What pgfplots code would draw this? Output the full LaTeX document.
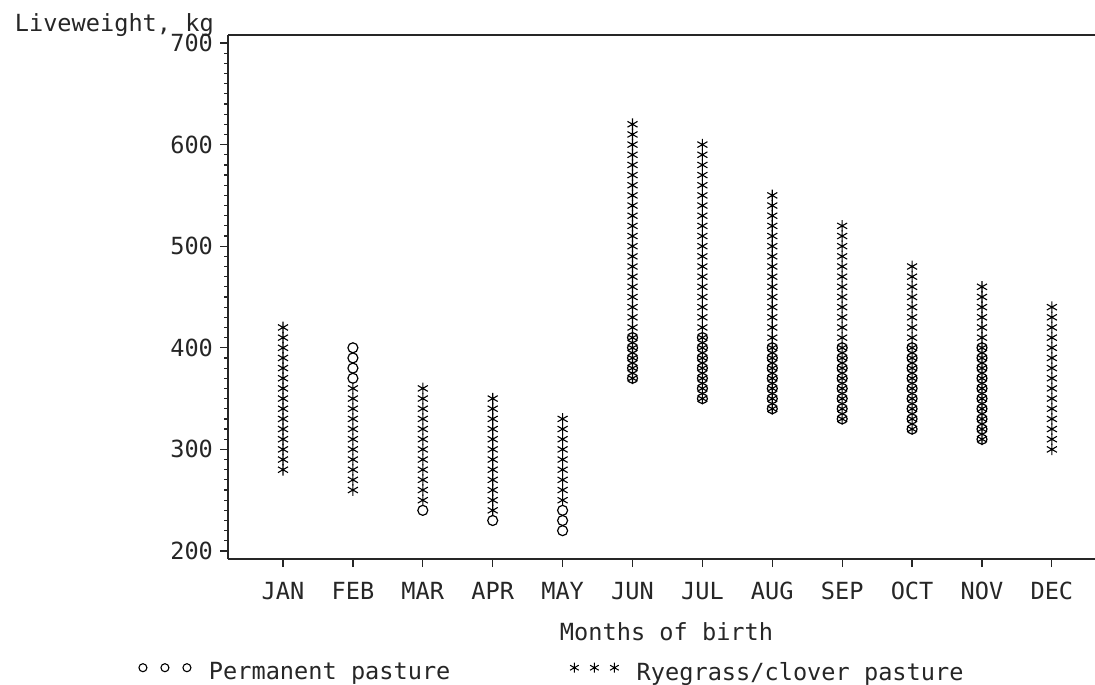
\documentclass[border=0pt]{standalone}
\usepackage{fontspec}
\setmainfont{DejaVu Sans Mono}
\usepackage{pgfplots}
\pgfplotsset{compat=1.18}
\begin{document}
\begin{tikzpicture}[x=1pt,y=1pt]
\path (0,0) rectangle (547.5,342);
\begin{axis}[
  at={(114pt,62.5pt)}, anchor=south west,
  scale only axis, width=433.5pt, height=262pt,
  xmin=-0.787, xmax=11.617, ymin=192.1, ymax=707.9,
  axis x line*=box, axis y line*=left,
  axis line style={line width=0.8pt, black!85},
  xtick={0,1,2,3,4,5,6,7,8,9,10,11},
  xticklabels={JAN,FEB,MAR,APR,MAY,JUN,JUL,AUG,SEP,OCT,NOV,DEC},
  xtick pos=bottom,
  ytick={200,300,400,500,600,700},
  minor y tick num=9,
  tick align=outside,
  major tick length=4pt, minor tick length=2pt,
  tick style={black!85, line width=0.6pt},
  /pgf/number format/assume math mode=true,
  tick label style={font=\fontsize{11.8}{14}\selectfont, text=black!85},
  xticklabel style={yshift=-4pt},
  xlabel={Months of birth},
  xlabel style={font=\fontsize{11.8}{14}\selectfont, text=black!85, at={(axis description cs:0.5058,-0.1546)}, anchor=base},
  ylabel={Liveweight, kg},
  ylabel style={font=\fontsize{11.8}{14}\selectfont, text=black!85, rotate=-90, at={(axis description cs:-0.254,1.0076)}, anchor=base west},
  clip=false,
  legend columns=2,
  legend style={at={(axis description cs:-0.1032,-0.217)}, anchor=west, draw=none, fill=none, inner sep=0pt,
    font=\fontsize{11.8}{14}\selectfont, text=black!85,
    nodes={inner sep=0pt},
    /tikz/every odd column/.append style={column sep=9pt},
    /tikz/every even column/.append style={column sep=59.8pt}},
]
\addplot[only marks, mark=o, mark size=2.5pt, line width=0.6pt, black,
  legend image code/.code={\draw[black, line width=0.55pt, mark size=2pt] plot[only marks, mark=o] coordinates {(0pt,2.5pt) (11pt,2.5pt) (22pt,2.5pt)};}]
coordinates {
(1,370)(1,380)(1,390)(1,400)
(2,240)
(3,230)
(4,220)(4,230)(4,240)
(5,370)(5,380)(5,390)(5,400)(5,410)
(6,350)(6,360)(6,370)(6,380)(6,390)(6,400)(6,410)
(7,340)(7,350)(7,360)(7,370)(7,380)(7,390)(7,400)
(8,330)(8,340)(8,350)(8,360)(8,370)(8,380)(8,390)(8,400)
(9,320)(9,330)(9,340)(9,350)(9,360)(9,370)(9,380)(9,390)(9,400)
(10,310)(10,320)(10,330)(10,340)(10,350)(10,360)(10,370)(10,380)(10,390)(10,400)
};
\addplot[only marks, mark=asterisk, mark size=2.9pt, line width=0.55pt, black,
  legend image code/.code={\draw[black, line width=0.5pt, mark size=2.5pt] plot[only marks, mark=asterisk] coordinates {(0pt,2.5pt) (10pt,2.5pt) (20pt,2.5pt)};}]
coordinates {
(0,280)(0,290)(0,300)(0,310)(0,320)(0,330)(0,340)(0,350)(0,360)(0,370)(0,380)(0,390)(0,400)(0,410)(0,420)
(1,260)(1,270)(1,280)(1,290)(1,300)(1,310)(1,320)(1,330)(1,340)(1,350)(1,360)
(2,250)(2,260)(2,270)(2,280)(2,290)(2,300)(2,310)(2,320)(2,330)(2,340)(2,350)(2,360)
(3,240)(3,250)(3,260)(3,270)(3,280)(3,290)(3,300)(3,310)(3,320)(3,330)(3,340)(3,350)
(4,250)(4,260)(4,270)(4,280)(4,290)(4,300)(4,310)(4,320)(4,330)
(5,370)(5,380)(5,390)(5,400)(5,410)(5,420)(5,430)(5,440)(5,450)(5,460)(5,470)(5,480)(5,490)(5,500)(5,510)(5,520)(5,530)(5,540)(5,550)(5,560)(5,570)(5,580)(5,590)(5,600)(5,610)(5,620)
(6,350)(6,360)(6,370)(6,380)(6,390)(6,400)(6,410)(6,420)(6,430)(6,440)(6,450)(6,460)(6,470)(6,480)(6,490)(6,500)(6,510)(6,520)(6,530)(6,540)(6,550)(6,560)(6,570)(6,580)(6,590)(6,600)
(7,340)(7,350)(7,360)(7,370)(7,380)(7,390)(7,400)(7,410)(7,420)(7,430)(7,440)(7,450)(7,460)(7,470)(7,480)(7,490)(7,500)(7,510)(7,520)(7,530)(7,540)(7,550)
(8,330)(8,340)(8,350)(8,360)(8,370)(8,380)(8,390)(8,400)(8,410)(8,420)(8,430)(8,440)(8,450)(8,460)(8,470)(8,480)(8,490)(8,500)(8,510)(8,520)
(9,320)(9,330)(9,340)(9,350)(9,360)(9,370)(9,380)(9,390)(9,400)(9,410)(9,420)(9,430)(9,440)(9,450)(9,460)(9,470)(9,480)
(10,310)(10,320)(10,330)(10,340)(10,350)(10,360)(10,370)(10,380)(10,390)(10,400)(10,410)(10,420)(10,430)(10,440)(10,450)(10,460)
(11,300)(11,310)(11,320)(11,330)(11,340)(11,350)(11,360)(11,370)(11,380)(11,390)(11,400)(11,410)(11,420)(11,430)(11,440)
};
\legend{Permanent pasture, Ryegrass/clover pasture}
\end{axis}
\pgfresetboundingbox
\useasboundingbox (0,0) rectangle (547.5,342);
\end{tikzpicture}
\end{document}
